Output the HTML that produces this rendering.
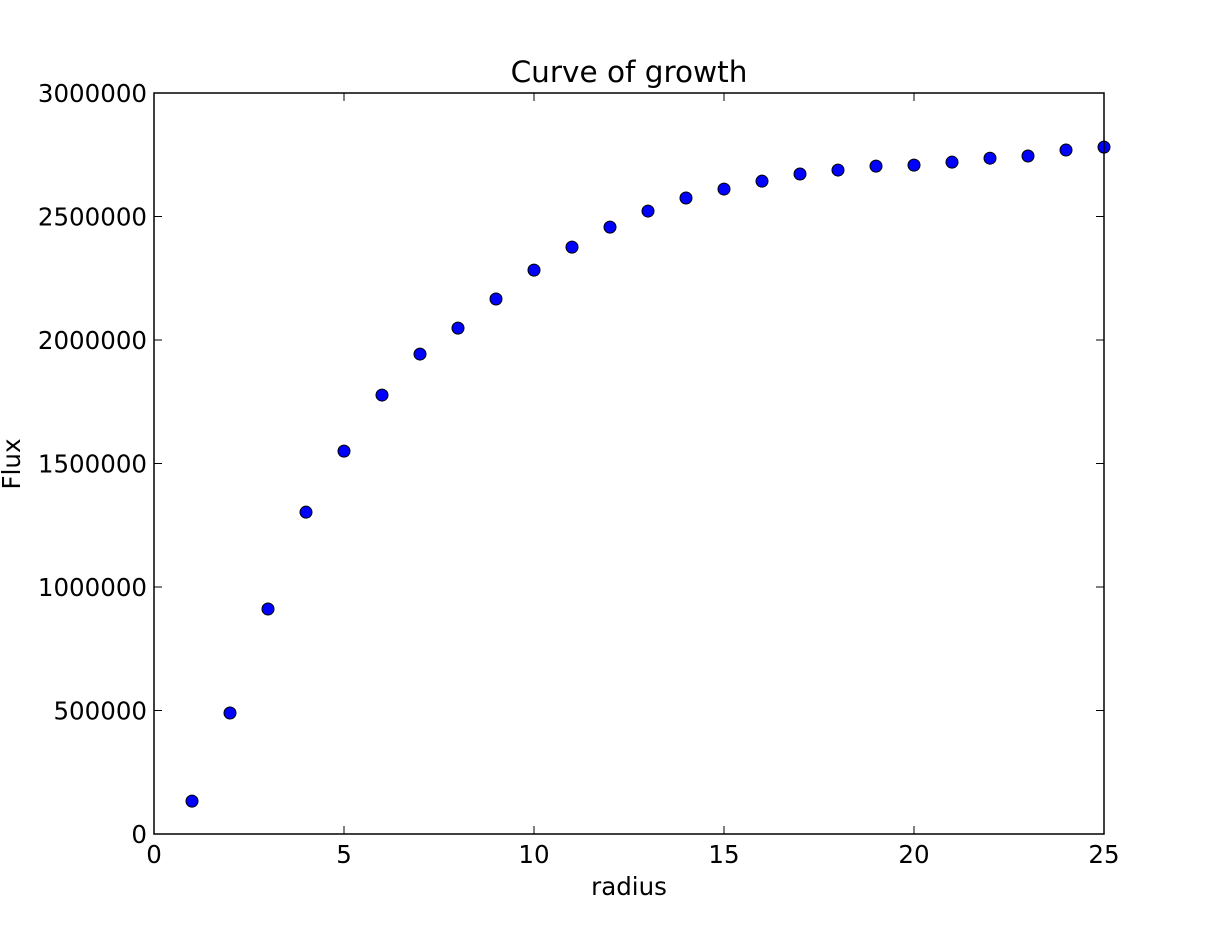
<!DOCTYPE html>
<html><head><meta charset="utf-8"><style>
html,body{margin:0;padding:0;background:#fff;}
svg{display:block;font-family:"DejaVu Sans","Liberation Sans",sans-serif;}
</style></head><body>
<svg id="chart" width="1227" height="927" viewBox="0 0 1227 927" xmlns="http://www.w3.org/2000/svg">
<rect x="0" y="0" width="1227" height="927" fill="#fff"/>
<g id="ticks"></g>
<g id="points"></g>
<rect x="154" y="93" width="950" height="741" fill="none" stroke="#000" stroke-width="1.5"/>
<text x="629" y="82" font-size="29.5" text-anchor="middle">Curve of growth</text>
<text x="629" y="895" font-size="24.5" text-anchor="middle">radius</text>
<text x="20" y="464" font-size="24.5" text-anchor="middle" transform="rotate(-90 20 464)">Flux</text>
</svg>
<script>
const radii=[1,2,3,4,5,6,7,8,9,10,11,12,13,14,15,16,17,18,19,20,21,22,23,24,25];
const flux=[133000,490000,911000,1303000,1550000,1777000,1943000,2048000,2166000,2283000,2376000,2457000,2522000,2575000,2611000,2643000,2672000,2688000,2704000,2708000,2720000,2736000,2745000,2769000,2781000];
const xTicks=[0,5,10,15,20,25];
const yTicks=[0,500000,1000000,1500000,2000000,2500000,3000000];
const L=154,R=1104,T=93,B=834,XMAX=25,YMAX=3000000;
const NS='http://www.w3.org/2000/svg';
function xs(v){return L+(R-L)*v/XMAX;}
function ys(v){return B-(B-T)*v/YMAX;}
const tg=document.getElementById('ticks'),pg=document.getElementById('points');
function mk(tag,attrs,parent){const e=document.createElementNS(NS,tag);for(const k in attrs)e.setAttribute(k,attrs[k]);parent.appendChild(e);return e;}
xTicks.forEach(t=>{
  const x=xs(t);
  const a=mk('line',{x1:x,y1:B,x2:x,y2:B-8,stroke:'#000','stroke-width':1},tg);
  
  
  const b=mk('line',{x1:x,y1:T,x2:x,y2:T+8,stroke:'#000','stroke-width':1},tg);
  
  
  const l=mk('text',{x:x,y:B+29,'font-size':24.5,'text-anchor':'middle'},tg);
  l.textContent=t;
  
  
});
yTicks.forEach(t=>{
  const y=ys(t);
  const a=mk('line',{x1:L,y1:y,x2:L+8,y2:y,stroke:'#000','stroke-width':1},tg);
  
  
  const b=mk('line',{x1:R,y1:y,x2:R-8,y2:y,stroke:'#000','stroke-width':1},tg);
  
  
  const l=mk('text',{x:L-7,y:y+9,'font-size':24.5,'text-anchor':'end'},tg);
  l.textContent=t;
  
  
});
radii.forEach((r,i)=>{
  const c=mk('circle',{cx:xs(r),cy:ys(flux[i]),r:6,fill:'#0000ff',stroke:'#000','stroke-width':1},pg);
  
  
});
</script>
</body></html>
